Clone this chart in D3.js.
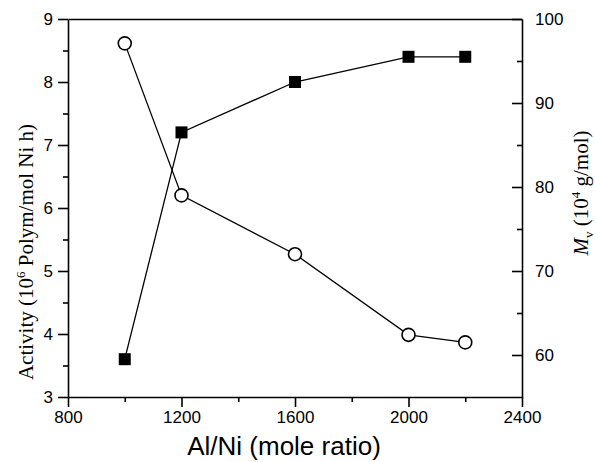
<!DOCTYPE html>
<html>
<head>
<meta charset="utf-8">
<script src="https://cdn.jsdelivr.net/npm/d3@7"></script>
<style>
  body { margin: 0; background: #fff; }
  svg { display: block; }
  .tick text { font-family: "Liberation Sans", Arial, sans-serif; font-size: 17px; fill: #000; }
  .domain, .tick line { stroke: #000; stroke-width: 1.6; }
</style>
</head>
<body>
<svg></svg>
<script>
// data
var ratio = [1000, 1200, 1600, 2000, 2200];            // Al/Ni mole ratio
var activity = [3.6, 7.2, 8.0, 8.4, 8.4];              // 10^6 Polym/mol Ni h (filled squares)
var mv = [97.1, 79.0, 72.0, 62.4, 61.5];               // 10^4 g/mol (open circles)
var xTicks = [800, 1200, 1600, 2000, 2400];
var leftTicks = [3, 4, 5, 6, 7, 8, 9];
var rightTicks = [60, 70, 80, 90, 100];

var width = 595, height = 462;
var margin = {top: 19, right: 73, bottom: 65, left: 68};

var svg = d3.select("svg")
    .attr("width", width)
    .attr("height", height);

var x = d3.scaleLinear().domain([800, 2400]).range([margin.left, width - margin.right]);
var yL = d3.scaleLinear().domain([3, 9]).range([height - margin.bottom, margin.top]);
var yR = d3.scaleLinear().domain([55, 100]).range([height - margin.bottom, margin.top]);
var fmt = d3.format("d");

// minor ticks sit halfway between majors
var xMinor = d3.range(1000, 2400, 400);
var leftMinor = d3.range(3.5, 9, 1);
var rightMinor = [65, 75, 85, 95];

// bottom
svg.append("g")
    .attr("transform", "translate(0," + yL.range()[0] + ")")
    .call(d3.axisBottom(x).tickValues(xTicks).tickFormat(fmt).tickSizeInner(10).tickSizeOuter(0).tickPadding(4));
svg.append("g")
    .attr("transform", "translate(0," + yL.range()[0] + ")")
    .call(d3.axisBottom(x).tickValues(xMinor).tickSize(5).tickFormat(""))
    .select(".domain").remove();

// top: plain line
svg.append("g")
    .attr("transform", "translate(0," + margin.top + ")")
    .call(d3.axisTop(x).tickValues([]).tickSizeOuter(0));

// left
svg.append("g")
    .attr("transform", "translate(" + margin.left + ",0)")
    .call(d3.axisLeft(yL).tickValues(leftTicks).tickFormat(fmt).tickSizeInner(10).tickSizeOuter(0).tickPadding(5));
svg.append("g")
    .attr("transform", "translate(" + margin.left + ",0)")
    .call(d3.axisLeft(yL).tickValues(leftMinor).tickSize(5).tickFormat(""))
    .select(".domain").remove();

// right: ticks point inward
var rx = width - margin.right;
svg.append("g")
    .attr("transform", "translate(" + rx + ",0)")
    .call(d3.axisRight(yR).tickValues(rightTicks).tickFormat(fmt).tickSizeInner(-10).tickSizeOuter(0).tickPadding(13));
svg.append("g")
    .attr("transform", "translate(" + rx + ",0)")
    .call(d3.axisRight(yR).tickValues(rightMinor).tickSizeInner(-5).tickSizeOuter(0).tickFormat(""))
    .select(".domain").remove();

var line = d3.line();

// activity series
svg.append("path")
    .attr("d", line(ratio.map((r, i) => [x(r), yL(activity[i])])))
    .attr("fill", "none").attr("stroke", "#000").attr("stroke-width", 1.3);

// mv series
svg.append("path")
    .attr("d", line(ratio.map((r, i) => [x(r), yR(mv[i])])))
    .attr("fill", "none").attr("stroke", "#000").attr("stroke-width", 1.3);

svg.selectAll(".sq")
    .data(ratio)
  .enter().append("rect")
    .attr("x", (d, i) => x(d) - 6)
    .attr("y", (d, i) => yL(activity[i]) - 6)
    .attr("width", 12).attr("height", 12)
    .attr("fill", "#000");

svg.selectAll(".circ")
    .data(ratio)
  .enter().append("circle")
    .attr("cx", d => x(d))
    .attr("cy", (d, i) => yR(mv[i]))
    .attr("r", 6.5)
    .attr("fill", "#fff").attr("stroke", "#000").attr("stroke-width", 1.6);

// axis titles
svg.append("text")
    .attr("x", 284)
    .attr("y", 455)
    .attr("text-anchor", "middle")
    .style("font-family", "'Liberation Sans', Arial, sans-serif")
    .style("font-size", "26px")
    .text("Al/Ni (mole ratio)");

var lt = svg.append("text")
    .attr("transform", "translate(33,252) rotate(-90)")
    .attr("text-anchor", "middle")
    .style("font-family", "'Liberation Serif', 'Times New Roman', serif")
    .style("font-size", "21px");
lt.append("tspan").text("Activity (10");
lt.append("tspan").attr("dy", -8).style("font-size", "13px").text("6");
lt.append("tspan").attr("dy", 8).text(" Polym/mol Ni h)");

var rt = svg.append("text")
    .attr("transform", "translate(588,193) rotate(-90)")
    .attr("text-anchor", "middle")
    .style("font-family", "'Liberation Serif', 'Times New Roman', serif")
    .style("font-size", "21px");
rt.append("tspan").style("font-style", "italic").text("M");
rt.append("tspan").attr("dy", 5).style("font-size", "13px").text("v");
rt.append("tspan").attr("dy", -5).text(" (10");
rt.append("tspan").attr("dy", -8).style("font-size", "13px").text("4");
rt.append("tspan").attr("dy", 8).text(" g/mol)");
</script>
</body>
</html>
